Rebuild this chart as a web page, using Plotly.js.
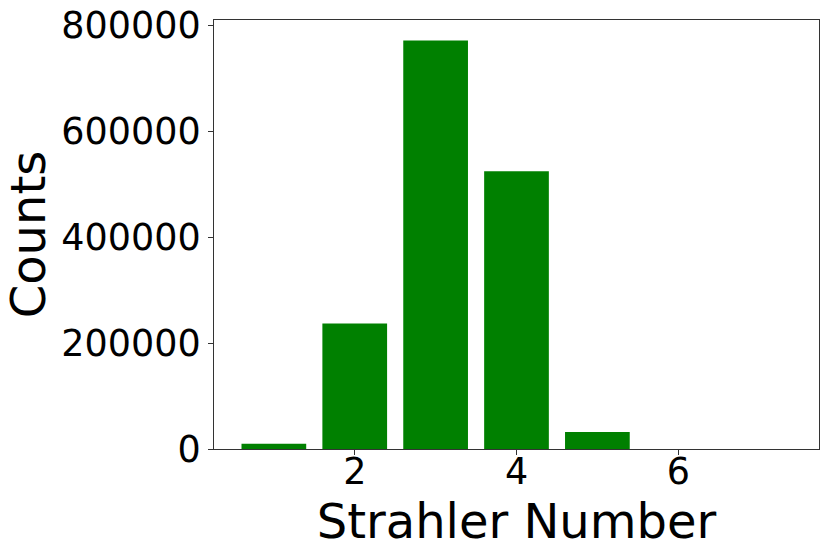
<!DOCTYPE html>
<html>
<head>
<meta charset="utf-8">
<script src="https://cdn.plot.ly/plotly-3.0.1.min.js"></script>
<style>html,body{margin:0;padding:0;background:#fff;}#chart{width:830px;height:554px;}</style>
</head>
<body>
<div id="chart"></div>
<script>
const strahlerNumbers = [1, 2, 3, 4, 5, 6, 7];
const counts = [10000, 237000, 771000, 524000, 32000, 100, 5];
const yTickValues = [0, 200000, 400000, 600000, 800000];
const yTickLabels = ['0', '200000', '400000', '600000', '800000'];
const xTickValues = [2, 4, 6];
const xTickLabels = ['2', '4', '6'];

const font = 'DejaVu Sans, sans-serif';
const trace = {
  type: 'bar',
  x: strahlerNumbers,
  y: counts,
  width: 0.8,
  marker: {color: '#008000', line: {width: 0}},
  hoverinfo: 'x+y'
};
const layout = {
  width: 830, height: 554,
  margin: {l: 214, r: 11, t: 20, b: 105, pad: 0},
  paper_bgcolor: '#fff', plot_bgcolor: '#fff',
  showlegend: false,
  font: {family: font, color: '#000'},
  xaxis: {
    range: [0.26, 7.74],
    tickvals: xTickValues, ticktext: xTickLabels,
    ticks: 'outside', ticklen: 5, tickwidth: 1, tickcolor: '#333',
    showline: true, linecolor: '#333', linewidth: 1, mirror: true,
    showgrid: false, zeroline: false,
    ticklabelstandoff: -15,
    tickfont: {family: font, size: 36.5, color: '#000'},
    title: {text: 'Strahler Number', font: {family: font, size: 48, color: '#000'}, standoff: 0}
  },
  yaxis: {
    range: [0, 809700],
    tickvals: yTickValues, ticktext: yTickLabels,
    ticks: 'outside', ticklen: 5, tickwidth: 1, tickcolor: '#333',
    showline: true, linecolor: '#333', linewidth: 1, mirror: true,
    showgrid: false, zeroline: false,
    tickfont: {family: font, size: 36.5, color: '#000'},
    title: {text: 'Counts', font: {family: font, size: 48, color: '#000'}, standoff: 10}
  }
};
Plotly.newPlot('chart', [trace], layout, {displayModeBar: false, staticPlot: true});
</script>
</body>
</html>
